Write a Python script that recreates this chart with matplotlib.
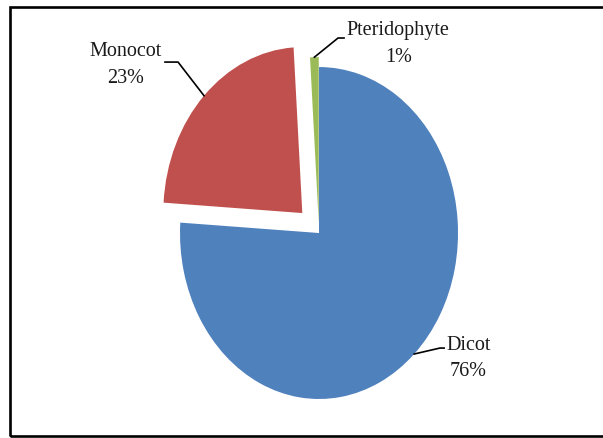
import matplotlib
matplotlib.use("Agg")
import matplotlib.pyplot as plt
from matplotlib.patches import Rectangle
import numpy as np

categorias = ["Dicot", "Monocot", "Pteridophyte"]
valores = [76, 23, 1]
cores = ["#4F81BD", "#C0504D", "#9BBB59"]
explode = [0.0, 0.17, 0.06]

# posicao do texto e do cotovelo da linha guia (em unidades do raio)
pos_texto = [(1.075, -0.75), (-1.39, 1.02), (0.57, 1.145)]
pos_cotovelo = [(0.87, -0.693), (-1.014, 1.03), (0.137, 1.175)]
pos_fim = [(0.90, -0.693), (-1.108, 1.03), (0.18, 1.175)]

plt.rcParams['font.family'] = ['Liberation Serif', 'DejaVu Serif']

fig = plt.figure(figsize=(6.03, 4.39), dpi=100)
ax = fig.add_axes([0, 0, 1, 1])

wedges, _ = ax.pie(valores, colors=cores, explode=explode, startangle=90,
                   counterclock=False, radius=1)

total = sum(valores)
for i, w in enumerate(wedges):
    meio = np.deg2rad((w.theta1 + w.theta2) / 2)
    cx, cy = w.center
    ax_, ay_ = cx + w.r * np.cos(meio), cy + w.r * np.sin(meio)
    ex, ey = pos_cotovelo[i]
    fx, fy = pos_fim[i]
    ax.plot([ax_, ex, fx], [ay_, ey, fy], color="black", lw=1.2)
    pct = round(valores[i] / total * 100)
    tx, ty = pos_texto[i]
    ax.text(tx, ty, f"{categorias[i]}\n{pct}%", ha="center", va="center",
            multialignment="center", fontsize=14.5, linespacing=1.55,
            color="#1a1a1a")

ax.set_aspect("auto")
ax.set_xlim(-2.295, 2.043)
ax.set_ylim(-1.235, 1.410)
ax.axis("off")

# moldura
fig.patches.append(Rectangle((0.016, 0.005), 1.2, 0.977, transform=fig.transFigure,
                             fill=False, edgecolor="black", lw=1.9))

fig.savefig("out.png", dpi=100)
